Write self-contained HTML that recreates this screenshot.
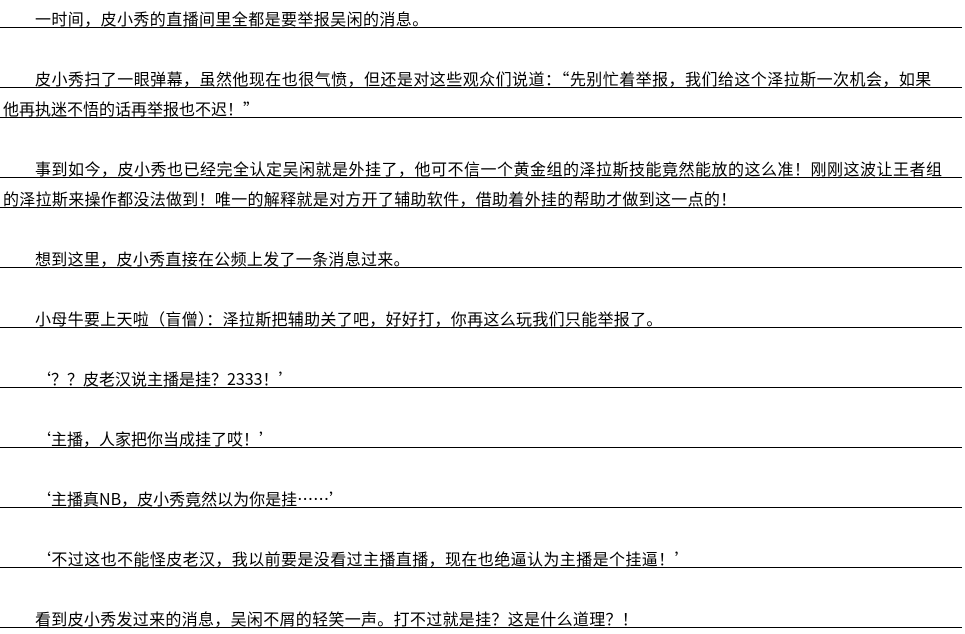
<!DOCTYPE html>
<html><head><meta charset="utf-8"><style>
html,body{margin:0;padding:0;background:#fff;width:965px;height:634px;overflow:hidden;position:relative}
.r{position:absolute;left:0;width:962px;height:1px;background:#000}
.t{position:absolute;white-space:nowrap;font-family:"Noto Sans CJK SC","WenQuanYi Zen Hei",sans-serif;font-size:16px;line-height:16px;color:#000}
</style></head><body>
<div class="t" style="left:35px;top:10px;letter-spacing:0.4px">一时间，皮小秀的直播间里全都是要举报吴闲的消息。</div><div class="r" style="top:27px"></div>
<div class="t" style="left:35px;top:70px;letter-spacing:0.45px">皮小秀扫了一眼弹幕，虽然他现在也很气愤，但还是对这些观众们说道：“先别忙着举报，我们给这个泽拉斯一次机会，如果</div><div class="r" style="top:87px"></div>
<div class="t" style="left:3px;top:100px">他再执迷不悟的话再举报也不迟！”</div><div class="r" style="top:117px"></div>
<div class="t" style="left:35px;top:160px;letter-spacing:0.5px">事到如今，皮小秀也已经完全认定吴闲就是外挂了，他可不信一个黄金组的泽拉斯技能竟然能放的这么准！刚刚这波让王者组</div><div class="r" style="top:177px"></div>
<div class="t" style="left:3px;top:190px;letter-spacing:0.3px">的泽拉斯来操作都没法做到！唯一的解释就是对方开了辅助软件，借助着外挂的帮助才做到这一点的！</div><div class="r" style="top:207px"></div>
<div class="t" style="left:35px;top:250px;letter-spacing:0.3px">想到这里，皮小秀直接在公频上发了一条消息过来。</div><div class="r" style="top:267px"></div>
<div class="t" style="left:35px;top:310px;letter-spacing:0.3px">小母牛要上天啦（盲僧）：泽拉斯把辅助关了吧，好好打，你再这么玩我们只能举报了。</div><div class="r" style="top:327px"></div>
<div class="t" style="left:35px;top:370px">‘？？皮老汉说主播是挂？2333！’</div><div class="r" style="top:387px"></div>
<div class="t" style="left:35px;top:430px">‘主播，人家把你当成挂了哎！’</div><div class="r" style="top:447px"></div>
<div class="t" style="left:35px;top:490px">‘主播真NB，皮小秀竟然以为你是挂……’</div><div class="r" style="top:507px"></div>
<div class="t" style="left:35px;top:550px;letter-spacing:0.4px">‘不过这也不能怪皮老汉，我以前要是没看过主播直播，现在也绝逼认为主播是个挂逼！’</div><div class="r" style="top:567px"></div>
<div class="t" style="left:35px;top:610px;letter-spacing:0.3px">看到皮小秀发过来的消息，吴闲不屑的轻笑一声。打不过就是挂？这是什么道理？！</div><div class="r" style="top:627px"></div>
</body></html>
